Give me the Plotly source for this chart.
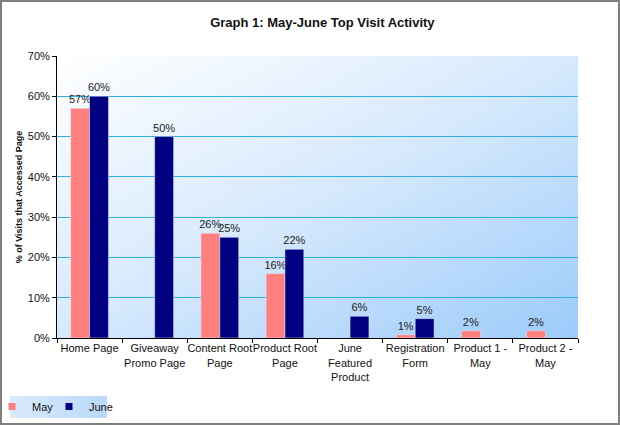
import plotly.graph_objects as go
import base64

categories = ["Home Page", "Giveaway<br>Promo Page", "Content Root<br>Page", "Product Root<br>Page",
              "June<br>Featured<br>Product", "Registration<br>Form", "Product 1 -<br>May", "Product 2 -<br>May"]
may_values = [57, None, 26, 16, None, 0.8, 1.8, 1.8]
june_values = [60, 50, 25, 22, 5.4, 4.8, None, None]
may_labels = ["57%", "", "26%", "16%", "", "1%", "2%", "2%"]
june_labels = ["60%", "50%", "25%", "22%", "6%", "5%", "", ""]
y_ticks = [0, 10, 20, 30, 40, 50, 60, 70]
y_ticklabels = [f"{t}%" for t in y_ticks]

W, H = 620, 425
ml, mr, mt, mb = 57, 42, 56, 87
pw, ph = W - ml - mr, H - mt - mb

svg = ('<svg xmlns="http://www.w3.org/2000/svg" width="100" height="100" preserveAspectRatio="none">'
       '<defs><linearGradient id="g" x1="0" y1="0" x2="1" y2="1">'
       '<stop offset="0" stop-color="#ffffff"/><stop offset="0.5" stop-color="#d6e9fd"/>'
       '<stop offset="1" stop-color="#9ccbfa"/></linearGradient></defs>'
       '<rect width="100" height="100" fill="url(#g)"/></svg>')
bg_uri = "data:image/svg+xml;base64," + base64.b64encode(svg.encode()).decode()

svg2 = ('<svg xmlns="http://www.w3.org/2000/svg" width="100" height="100" preserveAspectRatio="none">'
        '<defs><linearGradient id="g" x1="0" y1="0" x2="1" y2="0">'
        '<stop offset="0" stop-color="#d9eafc"/><stop offset="1" stop-color="#b9dafb"/></linearGradient></defs>'
        '<rect width="100" height="100" fill="url(#g)"/></svg>')
leg_uri = "data:image/svg+xml;base64," + base64.b64encode(svg2.encode()).decode()

MAY_COLOR, JUNE_COLOR = "#ff7f7f", "#000080"

fig = go.Figure()
fig.add_trace(go.Bar(name="May", x=categories, y=may_values, marker_color=MAY_COLOR,
                     text=may_labels, textposition="outside", cliponaxis=False, constraintext="none",
                     textfont=dict(size=11, color="#222222"), showlegend=False))
fig.add_trace(go.Bar(name="June", x=categories, y=june_values, marker_color=JUNE_COLOR,
                     text=june_labels, textposition="outside", cliponaxis=False, constraintext="none",
                     textfont=dict(size=11, color="#222222"), showlegend=False))
# legend entries (square swatches like the original)
fig.add_trace(go.Scatter(name="May", x=[None], y=[None], mode="markers",
                         marker=dict(symbol="square", size=7, color=MAY_COLOR)))
fig.add_trace(go.Scatter(name="June", x=[None], y=[None], mode="markers",
                         marker=dict(symbol="square", size=7, color=JUNE_COLOR)))
# invisible spacer entry so the last legend label is not clipped
fig.add_trace(go.Scatter(name=" ", x=[None], y=[None], mode="markers",
                         marker=dict(symbol="square", size=7, color="rgba(0,0,0,0)")))

def px2paper_x(px):
    return (px - ml) / pw

def px2paper_y(py):
    return (H - mb - py) / ph

fig.update_layout(
    width=W, height=H,
    margin=dict(l=ml, r=mr, t=mt, b=mb, autoexpand=False),
    paper_bgcolor="white",
    plot_bgcolor="rgba(0,0,0,0)",
    barmode="group", bargap=0.42, bargroupgap=0,
    font=dict(family="Liberation Sans, Arial, sans-serif", size=11, color="#111111"),
    title=dict(text="<b>Graph 1: May-June Top Visit Activity</b>", x=0.52, xanchor="center",
               y=1 - 22 / H, yanchor="middle", font=dict(size=13, color="#111111")),
    xaxis=dict(showline=True, linecolor="black", linewidth=1, ticks="outside", tickson="boundaries",
               ticklen=4, tickcolor="black", tickfont=dict(size=11), showgrid=False, tickangle=0,
               automargin=False),
    yaxis=dict(range=[0, 70], tickvals=y_ticks, ticktext=y_ticklabels, showline=True, linecolor="black",
               linewidth=1, ticks="outside", ticklen=4, tickcolor="black", tickfont=dict(size=11),
               showgrid=True, gridcolor="#2eb0e4", gridwidth=1, zeroline=False, automargin=False,
               title=dict(text="<b>% of Visits that Accessed Page</b>", font=dict(size=9), standoff=3)),
    legend=dict(orientation="h", x=px2paper_x(-8), y=px2paper_y(392), xanchor="left", yanchor="top",
                bgcolor="rgba(0,0,0,0)", font=dict(size=11), itemwidth=30, traceorder="normal",
                tracegroupgap=0, entrywidth=12),
    showlegend=True,
    images=[
        dict(source=bg_uri, xref="paper", yref="paper", x=0, y=1, sizex=1, sizey=1,
             sizing="stretch", layer="below"),
        dict(source=leg_uri, xref="paper", yref="paper", x=px2paper_x(10), y=px2paper_y(396),
             sizex=(107 - 10) / pw, sizey=(418 - 396) / ph, sizing="stretch", layer="below"),
    ],
    shapes=[dict(type="rect", xref="paper", yref="paper",
                 x0=px2paper_x(1), x1=px2paper_x(W - 1), y0=px2paper_y(H - 1), y1=px2paper_y(1),
                 line=dict(color="#7f7f7f", width=2), fillcolor="rgba(0,0,0,0)", layer="above")],
)

fig.write_html("out.html", config={"displayModeBar": False},
               post_script="document.body.style.margin='0';document.body.style.padding='0';")
